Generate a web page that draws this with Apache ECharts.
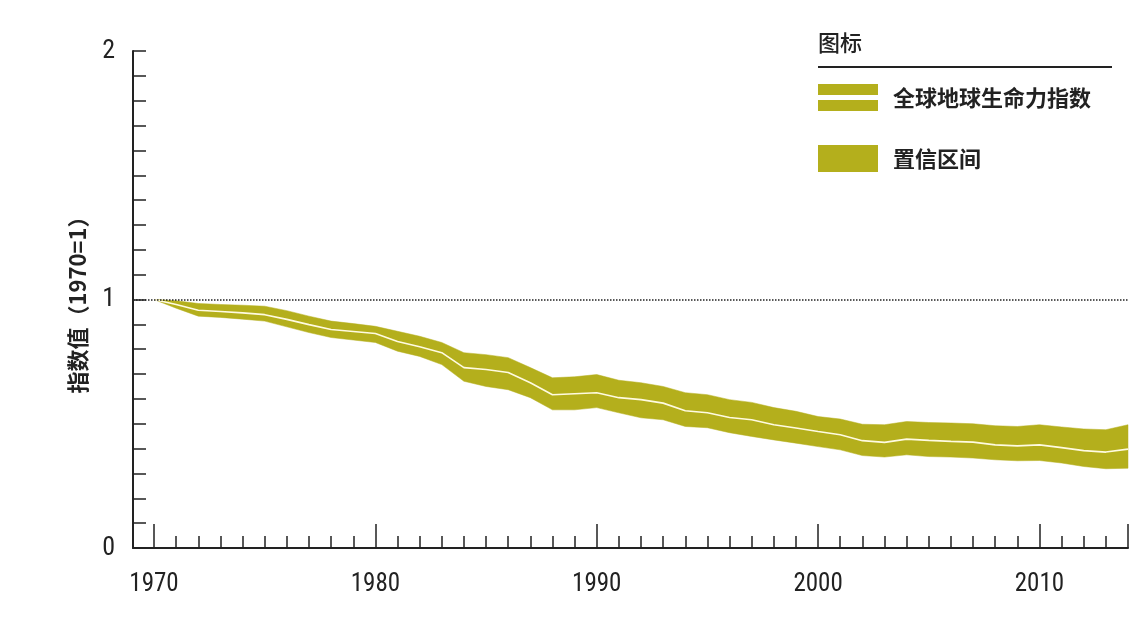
<!DOCTYPE html>
<html>
<head>
<meta charset="utf-8">
<script src="https://cdn.jsdelivr.net/npm/echarts@6/dist/echarts.min.js"></script>
<style>
  html, body { margin: 0; padding: 0; background: #fff; }
  #chart { width: 1148px; height: 634px; }
</style>
</head>
<body>
<div id="chart"></div>
<script>
// years 1970..2014
const years = [1970, 1971, 1972, 1973, 1974, 1975, 1976, 1977, 1978, 1979,
  1980, 1981, 1982, 1983, 1984, 1985, 1986, 1987, 1988, 1989,
  1990, 1991, 1992, 1993, 1994, 1995, 1996, 1997, 1998, 1999,
  2000, 2001, 2002, 2003, 2004, 2005, 2006, 2007, 2008, 2009,
  2010, 2011, 2012, 2013, 2014];
// index value (white line)
const indexValues = [1.000, 0.980, 0.957, 0.952, 0.946, 0.939, 0.920, 0.899, 0.879, 0.871,
  0.863, 0.831, 0.810, 0.786, 0.726, 0.718, 0.706, 0.665, 0.617, 0.621,
  0.625, 0.605, 0.597, 0.583, 0.552, 0.544, 0.525, 0.516, 0.496, 0.483,
  0.469, 0.456, 0.432, 0.425, 0.438, 0.433, 0.429, 0.426, 0.415, 0.411,
  0.415, 0.404, 0.392, 0.386, 0.398];
// confidence interval, upper and lower bounds
const upperValues = [1.000, 0.995, 0.984, 0.980, 0.977, 0.973, 0.955, 0.933, 0.913, 0.903,
  0.892, 0.872, 0.852, 0.827, 0.786, 0.778, 0.766, 0.726, 0.685, 0.689,
  0.698, 0.675, 0.665, 0.650, 0.625, 0.617, 0.597, 0.586, 0.565, 0.550,
  0.529, 0.519, 0.498, 0.496, 0.509, 0.505, 0.503, 0.500, 0.492, 0.489,
  0.496, 0.487, 0.479, 0.476, 0.496];
const lowerValues = [1.000, 0.965, 0.933, 0.928, 0.921, 0.913, 0.890, 0.867, 0.847, 0.837,
  0.827, 0.792, 0.771, 0.738, 0.671, 0.650, 0.637, 0.605, 0.556, 0.556,
  0.565, 0.544, 0.524, 0.516, 0.489, 0.484, 0.464, 0.449, 0.435, 0.422,
  0.408, 0.395, 0.372, 0.366, 0.375, 0.368, 0.366, 0.362, 0.355, 0.351,
  0.352, 0.342, 0.328, 0.319, 0.321];
const majorTicks = [1970, 1980, 1990, 2000, 2010, 2014];
const xLabels = [1970, 1980, 1990, 2000, 2010];
const yLabels = [0, 1, 2];

const indexName = '全球地球生命力指数';
const ciName = '置信区间';
const olive = '#b4af1c';
const ink = '#222222';
const numFont = "'Liberation Sans Narrow', 'Roboto Condensed', 'DejaVu Sans Condensed', Arial, sans-serif";
const cjkFont = "'Noto Sans CJK SC', sans-serif";

const chart = echarts.init(document.getElementById('chart'));

// band polygon: upper bound left->right, then lower bound right->left
const renderBand = (params, api) => {
  if (params.dataIndex !== 0) return null;
  const pts = [];
  for (let i = 0; i < years.length; i++) pts.push(api.coord([years[i], upperValues[i]]));
  for (let i = years.length - 1; i >= 0; i--) pts.push(api.coord([years[i], lowerValues[i]]));
  return {
    type: 'polygon',
    shape: { points: pts },
    style: { fill: olive, stroke: olive, lineWidth: 0.5 }
  };
};

const option = {
  animation: false,
  grid: { left: 133, right: 20, top: 51, bottom: 86 },
  xAxis: [
    {
      type: 'value',
      min: 1969.05,
      max: 2014,
      axisLine: { show: true, lineStyle: { color: ink, width: 2 } },
      axisTick: {
        show: true, inside: true, length: 12,
        customValues: years,
        lineStyle: { color: ink, width: 1.5 }
      },
      axisLabel: { show: false },
      splitLine: { show: false }
    },
    {
      type: 'value',
      position: 'bottom',
      min: 1969.05,
      max: 2014,
      axisLine: { show: false },
      axisTick: {
        show: true, inside: true, length: 24,
        customValues: majorTicks,
        lineStyle: { color: ink, width: 1.5 }
      },
      axisLabel: {
        show: true, customValues: xLabels, margin: 24,
        formatter: v => String(v),
        color: ink, fontSize: 25, fontFamily: numFont
      },
      splitLine: { show: false }
    }
  ],
  yAxis: {
    type: 'value',
    min: 0,
    max: 2,
    interval: 0.1,
    name: '指数值（1970=1）',
    nameLocation: 'middle',
    nameGap: 44,
    nameRotate: 90,
    nameTextStyle: { color: ink, fontSize: 22, fontWeight: 'bold', fontFamily: cjkFont },
    axisLine: { show: true, lineStyle: { color: ink, width: 2 } },
    axisTick: { show: true, inside: true, length: 13, lineStyle: { color: ink, width: 1.5 } },
    axisLabel: {
      customValues: yLabels, margin: 18,
      formatter: v => String(v),
      color: ink, fontSize: 26, fontFamily: numFont
    },
    splitLine: { show: false }
  },
  legend: {
    orient: 'vertical',
    left: 813,
    top: 79,
    itemWidth: 60,
    itemHeight: 27,
    itemGap: 34,
    selectedMode: false,
    textStyle: { color: ink, fontSize: 22, fontWeight: 'bold', fontFamily: cjkFont, padding: [0, 0, 0, 10] },
    data: [
      { name: indexName, icon: 'path://M0,0H60V11H0Z M0,16H60V27H0Z', itemStyle: { color: olive, borderWidth: 0 } },
      { name: ciName, icon: 'rect', itemStyle: { color: olive, borderWidth: 0 } }
    ]
  },
  graphic: [
    {
      type: 'text', left: 818, top: 32,
      style: { text: '图标', fill: ink, fontSize: 22, fontFamily: cjkFont, fontWeight: 500 }
    },
    {
      type: 'line',
      shape: { x1: 818, y1: 67, x2: 1112, y2: 67 },
      style: { stroke: ink, lineWidth: 2 }
    }
  ],
  series: [
    {
      name: ciName,
      type: 'custom',
      silent: true,
      itemStyle: { color: olive },
      renderItem: renderBand,
      data: years.map((y, i) => [y, lowerValues[i], upperValues[i]]),
      encode: { x: 0, y: [1, 2] },
      z: 2
    },
    {
      name: indexName,
      type: 'line',
      symbol: 'none',
      silent: true,
      itemStyle: { color: olive },
      lineStyle: { color: '#fffbe0', width: 1.6 },
      data: years.map((y, i) => [y, indexValues[i]]),
      markLine: {
        silent: true,
        symbol: 'none',
        label: { show: false },
        lineStyle: { color: ink, type: 'dotted', width: 1.5 },
        data: [{ yAxis: 1 }]
      },
      z: 3
    }
  ]
};

chart.setOption(option);
</script>
</body>
</html>
